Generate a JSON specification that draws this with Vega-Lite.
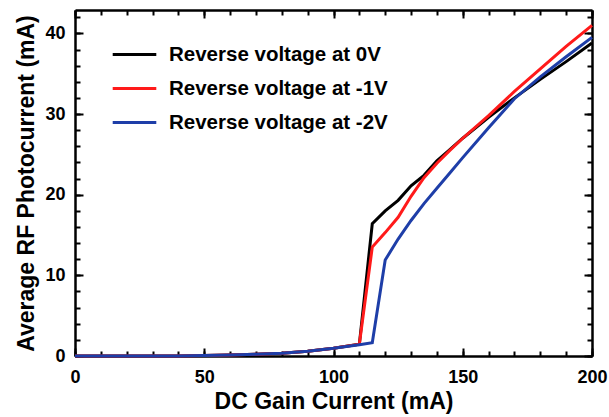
{
  "$schema": "https://vega.github.io/schema/vega-lite/v6.json",
  "width": 517,
  "height": 346,
  "autosize": {"type": "none"},
  "padding": {"left": 75, "top": 10, "right": 17, "bottom": 61},
  "background": "white",
  "config": {
    "view": {"stroke": null},
    "axis": {
      "grid": false,
      "domainColor": "black",
      "tickColor": "black",
      "labelFont": "Liberation Sans",
      "labelFontWeight": "bold",
      "labelFontSize": 18,
      "labelColor": "black",
      "titleFont": "Liberation Sans",
      "titleFontWeight": "bold",
      "titleFontSize": 23,
      "titleColor": "black"
    }
  },
  "data": {
    "values": [
      {"I": 0, "P": 0, "s": "Reverse voltage at 0V"},
      {"I": 10, "P": 0, "s": "Reverse voltage at 0V"},
      {"I": 20, "P": 0, "s": "Reverse voltage at 0V"},
      {"I": 30, "P": 0, "s": "Reverse voltage at 0V"},
      {"I": 40, "P": 0.01, "s": "Reverse voltage at 0V"},
      {"I": 50, "P": 0.05, "s": "Reverse voltage at 0V"},
      {"I": 60, "P": 0.12, "s": "Reverse voltage at 0V"},
      {"I": 70, "P": 0.22, "s": "Reverse voltage at 0V"},
      {"I": 80, "P": 0.35, "s": "Reverse voltage at 0V"},
      {"I": 90, "P": 0.6, "s": "Reverse voltage at 0V"},
      {"I": 100, "P": 0.95, "s": "Reverse voltage at 0V"},
      {"I": 110, "P": 1.45, "s": "Reverse voltage at 0V"},
      {"I": 115, "P": 16.4, "s": "Reverse voltage at 0V"},
      {"I": 120, "P": 18.0, "s": "Reverse voltage at 0V"},
      {"I": 125, "P": 19.3, "s": "Reverse voltage at 0V"},
      {"I": 130, "P": 21.1, "s": "Reverse voltage at 0V"},
      {"I": 135, "P": 22.4, "s": "Reverse voltage at 0V"},
      {"I": 140, "P": 24.2, "s": "Reverse voltage at 0V"},
      {"I": 145, "P": 25.6, "s": "Reverse voltage at 0V"},
      {"I": 150, "P": 27.0, "s": "Reverse voltage at 0V"},
      {"I": 160, "P": 29.6, "s": "Reverse voltage at 0V"},
      {"I": 170, "P": 32.0, "s": "Reverse voltage at 0V"},
      {"I": 180, "P": 34.3, "s": "Reverse voltage at 0V"},
      {"I": 190, "P": 36.5, "s": "Reverse voltage at 0V"},
      {"I": 200, "P": 38.8, "s": "Reverse voltage at 0V"},
      {"I": 0, "P": 0, "s": "Reverse voltage at -1V"},
      {"I": 10, "P": 0, "s": "Reverse voltage at -1V"},
      {"I": 20, "P": 0, "s": "Reverse voltage at -1V"},
      {"I": 30, "P": 0, "s": "Reverse voltage at -1V"},
      {"I": 40, "P": 0.01, "s": "Reverse voltage at -1V"},
      {"I": 50, "P": 0.05, "s": "Reverse voltage at -1V"},
      {"I": 60, "P": 0.12, "s": "Reverse voltage at -1V"},
      {"I": 70, "P": 0.22, "s": "Reverse voltage at -1V"},
      {"I": 80, "P": 0.35, "s": "Reverse voltage at -1V"},
      {"I": 90, "P": 0.6, "s": "Reverse voltage at -1V"},
      {"I": 100, "P": 0.95, "s": "Reverse voltage at -1V"},
      {"I": 110, "P": 1.45, "s": "Reverse voltage at -1V"},
      {"I": 115, "P": 13.5, "s": "Reverse voltage at -1V"},
      {"I": 120, "P": 15.3, "s": "Reverse voltage at -1V"},
      {"I": 125, "P": 17.2, "s": "Reverse voltage at -1V"},
      {"I": 130, "P": 19.8, "s": "Reverse voltage at -1V"},
      {"I": 135, "P": 22.1, "s": "Reverse voltage at -1V"},
      {"I": 140, "P": 23.9, "s": "Reverse voltage at -1V"},
      {"I": 145, "P": 25.5, "s": "Reverse voltage at -1V"},
      {"I": 150, "P": 27.0, "s": "Reverse voltage at -1V"},
      {"I": 160, "P": 29.8, "s": "Reverse voltage at -1V"},
      {"I": 170, "P": 32.8, "s": "Reverse voltage at -1V"},
      {"I": 180, "P": 35.6, "s": "Reverse voltage at -1V"},
      {"I": 190, "P": 38.4, "s": "Reverse voltage at -1V"},
      {"I": 200, "P": 41.0, "s": "Reverse voltage at -1V"},
      {"I": 0, "P": 0, "s": "Reverse voltage at -2V"},
      {"I": 10, "P": 0, "s": "Reverse voltage at -2V"},
      {"I": 20, "P": 0, "s": "Reverse voltage at -2V"},
      {"I": 30, "P": 0, "s": "Reverse voltage at -2V"},
      {"I": 40, "P": 0.01, "s": "Reverse voltage at -2V"},
      {"I": 50, "P": 0.05, "s": "Reverse voltage at -2V"},
      {"I": 60, "P": 0.12, "s": "Reverse voltage at -2V"},
      {"I": 70, "P": 0.22, "s": "Reverse voltage at -2V"},
      {"I": 80, "P": 0.35, "s": "Reverse voltage at -2V"},
      {"I": 90, "P": 0.6, "s": "Reverse voltage at -2V"},
      {"I": 100, "P": 0.95, "s": "Reverse voltage at -2V"},
      {"I": 110, "P": 1.4, "s": "Reverse voltage at -2V"},
      {"I": 115, "P": 1.65, "s": "Reverse voltage at -2V"},
      {"I": 120, "P": 11.9, "s": "Reverse voltage at -2V"},
      {"I": 125, "P": 14.5, "s": "Reverse voltage at -2V"},
      {"I": 130, "P": 16.8, "s": "Reverse voltage at -2V"},
      {"I": 135, "P": 18.9, "s": "Reverse voltage at -2V"},
      {"I": 140, "P": 20.8, "s": "Reverse voltage at -2V"},
      {"I": 145, "P": 22.7, "s": "Reverse voltage at -2V"},
      {"I": 150, "P": 24.6, "s": "Reverse voltage at -2V"},
      {"I": 160, "P": 28.3, "s": "Reverse voltage at -2V"},
      {"I": 170, "P": 31.9, "s": "Reverse voltage at -2V"},
      {"I": 180, "P": 34.6, "s": "Reverse voltage at -2V"},
      {"I": 190, "P": 37.1, "s": "Reverse voltage at -2V"},
      {"I": 200, "P": 39.5, "s": "Reverse voltage at -2V"}
    ]
  },
  "layer": [
    {
      "mark": {"type": "line", "strokeWidth": 3},
      "encoding": {
        "x": {
          "field": "I", "type": "quantitative",
          "scale": {"domain": [0, 200], "nice": false},
          "axis": {
            "orient": "bottom",
            "title": "DC Gain Current (mA)",
            "tickCount": 4,
            "domain": false,
            "tickSize": 8,
            "tickWidth": 2,
            "offset": -8,
            "labelPadding": 12,
            "labelFlush": false,
            "titlePadding": 4
          }
        },
        "y": {
          "field": "P", "type": "quantitative",
          "scale": {"domain": [0, 42.9], "nice": false},
          "axis": {
            "orient": "left",
            "title": "Average RF Photocurrent (mA)",
            "tickCount": 4,
            "domain": false,
            "tickSize": 8,
            "tickWidth": 2,
            "offset": -8,
            "labelPadding": 10,
            "labelFlush": false,
            "titlePadding": 6
          }
        },
        "color": {
          "field": "s", "type": "nominal",
          "sort": ["Reverse voltage at 0V", "Reverse voltage at -1V", "Reverse voltage at -2V"],
          "scale": {
            "domain": ["Reverse voltage at 0V", "Reverse voltage at -1V", "Reverse voltage at -2V"],
            "range": ["#000000", "#ff1a1a", "#1e3ea8"]
          },
          "legend": {
            "title": null,
            "orient": "none",
            "legendX": 36,
            "legendY": 21,
            "symbolType": "stroke",
            "symbolSize": 1900,
            "symbolStrokeWidth": 3,
            "labelFont": "Liberation Sans",
            "labelFontWeight": "bold",
            "labelFontSize": 20.5,
            "labelColor": "black",
            "labelOffset": 11,
            "rowPadding": -15,
            "labelLimit": 400
          }
        }
      }
    },
    {
      "mark": {"type": "line", "strokeOpacity": 0},
      "encoding": {
        "x": {"field": "I", "type": "quantitative", "axis": {"orient": "bottom", "title": null, "labels": false, "domain": false, "tickCount": 20, "tickSize": 5, "tickWidth": 2, "offset": -5}},
        "y": {"field": "P", "type": "quantitative", "axis": {"orient": "left", "title": null, "labels": false, "domain": false, "tickCount": 21, "tickSize": 5, "tickWidth": 2, "offset": -5}}
      }
    },
    {
      "mark": {"type": "line", "strokeOpacity": 0},
      "encoding": {
        "x": {"field": "I", "type": "quantitative", "axis": {"orient": "bottom", "title": null, "labels": false, "values": [], "domainWidth": 2.5}},
        "y": {"field": "P", "type": "quantitative", "axis": {"orient": "left", "title": null, "labels": false, "values": [], "domainWidth": 2.5}}
      }
    },
    {
      "mark": {"type": "line", "strokeOpacity": 0},
      "encoding": {
        "x": {"field": "I", "type": "quantitative", "axis": {"orient": "top", "title": null, "labels": false, "values": [], "domainWidth": 2.5}},
        "y": {"field": "P", "type": "quantitative", "axis": {"orient": "right", "title": null, "labels": false, "values": [], "domainWidth": 2.5}}
      }
    },
    {
      "mark": {"type": "line", "strokeOpacity": 0},
      "encoding": {
        "x": {"field": "I", "type": "quantitative", "axis": {"orient": "top", "title": null, "labels": false, "domain": false, "tickCount": 4, "tickSize": 8, "tickWidth": 2, "offset": -8}},
        "y": {"field": "P", "type": "quantitative", "axis": {"orient": "right", "title": null, "labels": false, "domain": false, "tickCount": 4, "tickSize": 8, "tickWidth": 2, "offset": -8}}
      }
    },
    {
      "mark": {"type": "line", "strokeOpacity": 0},
      "encoding": {
        "x": {"field": "I", "type": "quantitative", "axis": {"orient": "top", "title": null, "labels": false, "domain": false, "tickCount": 20, "tickSize": 5, "tickWidth": 2, "offset": -5}},
        "y": {"field": "P", "type": "quantitative", "axis": {"orient": "right", "title": null, "labels": false, "domain": false, "tickCount": 21, "tickSize": 5, "tickWidth": 2, "offset": -5}}
      }
    }
  ],
  "resolve": {"axis": {"x": "independent", "y": "independent"}}
}
